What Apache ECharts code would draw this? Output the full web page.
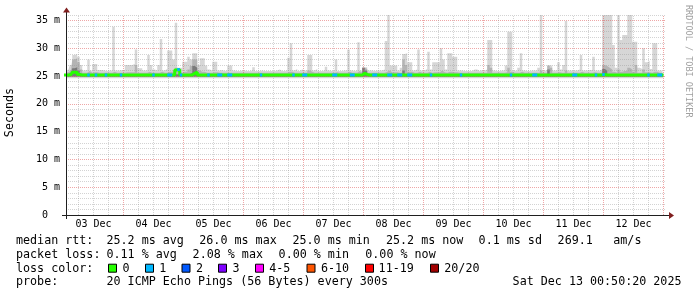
<!DOCTYPE html>
<html><head><meta charset="utf-8">
<script src="https://cdn.jsdelivr.net/npm/echarts@6/dist/echarts.min.js"></script>
<style>html,body{margin:0;padding:0;background:#fff}#c{width:697px;height:297px}</style>
</head><body><div id="c"></div>
<script>
// x values: hours since 03 Dec 00:00, one sample per hour (0..240)
const dayLabels = ['03 Dec','04 Dec','05 Dec','06 Dec','07 Dec','08 Dec','09 Dec','10 Dec','11 Dec','12 Dec'];
const dayLabelHours = [12,36,60,84,108,132,156,180,204,228];
const yTickText = {0:'0  ',5:'5 m',10:'10 m',15:'15 m',20:'20 m',25:'25 m',30:'30 m',35:'35 m'};
const hours = Array.from({length:241},(_,i)=>i);

// outer (lightest) smoke: highest ping per hour (ms)
const smokeMax = [
 25.9,26.0,26.2,27.0,28.8,29.0,28.5,27.0,26.0,26.1,28.0,26.0,27.2,27.2,26.1,26.1,26.0,25.9,26.0,26.0,33.9,26.0,26.0,26.1,
 26.1,27.0,27.0,27.0,27.2,29.8,26.4,26.4,26.0,26.0,28.8,27.0,26.2,26.0,27.0,31.7,26.0,26.3,29.6,29.6,28.0,34.6,26.5,26.5,
 27.6,27.6,28.5,28.0,29.1,29.1,27.0,28.2,28.2,26.9,26.2,26.0,27.6,27.6,26.0,26.1,25.9,26.0,26.9,26.9,26.0,25.9,25.9,26.0,
 26.0,25.9,25.9,26.0,26.6,25.9,25.9,26.0,25.9,25.9,25.9,25.9,25.9,26.0,26.2,25.9,25.9,26.0,28.3,30.9,26.0,26.3,25.9,26.2,
 26.0,26.0,28.8,28.8,26.0,26.3,25.9,25.9,26.0,26.7,26.0,25.9,26.0,28.0,25.9,25.9,26.0,26.0,29.8,26.0,25.9,26.0,31.1,26.0,
 26.6,26.6,26.0,26.0,25.9,26.0,26.0,26.0,26.2,31.3,36.0,26.9,26.9,26.9,26.0,26.5,29.0,29.1,27.5,27.5,26.0,26.2,29.8,26.0,
 26.0,26.3,29.4,26.2,27.5,27.5,27.5,30.0,28.0,26.2,29.1,29.1,28.5,28.5,26.0,26.0,25.9,25.9,25.9,25.9,26.2,26.2,25.9,26.1,
 26.0,26.2,31.5,31.5,26.0,25.9,25.9,26.0,26.0,26.9,33.0,33.0,26.0,25.9,26.5,29.1,26.0,25.9,25.9,26.0,26.0,26.0,26.5,36.0,
 26.0,26.0,26.9,26.9,26.0,26.0,27.5,26.2,27.0,34.9,26.0,26.0,26.0,26.0,26.2,28.8,26.0,26.0,26.1,26.1,28.5,26.0,26.0,26.2,
 36.0,36.0,36.0,36.0,30.6,26.5,36.0,31.5,32.4,32.4,36.0,36.0,31.2,31.2,26.5,26.3,30.0,27.5,27.7,26.3,30.9,30.9,26.0,26.0,26.0
];
// middle smoke band upper edge (ms)
const smokeMid = [
 25.6,25.6,25.7,26.0,28.0,28.2,27.5,26.2,25.6,25.6,25.9,25.6,25.7,25.7,25.6,25.6,25.6,25.6,25.6,25.6,25.8,25.6,25.6,25.6,
 25.6,25.7,25.7,25.7,25.7,27.0,25.6,25.6,25.6,25.6,25.8,25.6,25.6,25.6,25.6,25.8,25.6,25.6,25.8,25.8,25.9,26.5,25.8,25.6,
 25.8,25.8,26.2,26.8,28.0,28.0,26.0,25.8,25.8,25.6,25.6,25.6,25.7,25.7,25.6,25.6,25.6,25.6,25.6,25.6,25.6,25.6,25.6,25.6,
 25.6,25.6,25.6,25.6,25.6,25.6,25.6,25.6,25.6,25.6,25.6,25.6,25.6,25.6,25.6,25.6,25.6,25.6,25.8,25.8,25.6,25.6,25.6,25.6,
 25.6,25.6,26.0,25.8,25.6,25.6,25.6,25.6,25.6,25.6,25.6,25.6,25.6,25.7,25.6,25.6,25.6,25.6,25.8,25.6,25.6,25.6,25.9,25.6,
 26.5,26.3,25.6,25.6,25.6,25.6,25.6,25.6,25.6,25.8,26.0,25.7,25.7,25.7,25.6,25.6,28.0,27.0,25.8,25.8,25.6,25.6,25.8,25.6,
 25.6,25.6,25.8,25.6,25.7,25.7,25.7,26.0,25.7,25.6,25.8,25.8,25.7,25.7,25.6,25.6,25.6,25.6,25.6,25.6,25.6,25.6,25.6,25.6,
 25.6,25.6,27.0,26.5,25.6,25.6,25.6,25.6,25.6,25.7,26.5,25.8,25.6,25.6,25.6,25.8,25.6,25.6,25.6,25.6,25.6,25.6,25.6,26.0,
 25.6,25.6,26.9,26.5,25.6,25.6,25.7,25.6,25.6,26.0,25.6,25.6,25.6,25.6,25.6,25.8,25.6,25.6,25.6,25.6,25.7,25.6,25.6,25.6,
 27.0,26.8,26.5,26.2,25.8,25.6,26.2,25.8,25.9,25.9,26.5,26.2,25.8,27.0,25.6,25.6,26.2,25.7,25.7,25.6,25.8,25.8,25.6,25.6,25.6
];
// inner (darkest) smoke upper edge (ms)
const smokeInner = [
 25.35,25.35,25.35,25.6,26.4,26.6,26.0,25.4,25.35,25.35,25.35,25.35,25.35,25.35,25.35,25.35,25.35,25.35,25.35,25.35,25.35,25.35,25.35,25.35,
 25.35,25.35,25.35,25.35,25.35,25.35,25.35,25.35,25.35,25.35,25.35,25.35,25.35,25.35,25.35,25.35,25.35,25.35,25.35,25.35,25.35,25.35,25.35,25.35,
 25.35,25.35,25.35,25.6,26.8,26.5,25.35,25.35,25.35,25.35,25.35,25.35,25.35,25.35,25.35,25.35,25.35,25.35,25.35,25.35,25.35,25.35,25.35,25.35,
 25.35,25.35,25.35,25.35,25.35,25.35,25.35,25.35,25.35,25.35,25.35,25.35,25.35,25.35,25.35,25.35,25.35,25.35,25.35,25.35,25.35,25.35,25.35,25.35,
 25.35,25.35,25.35,25.35,25.35,25.35,25.35,25.35,25.35,25.35,25.35,25.35,25.35,25.35,25.35,25.35,25.35,25.35,25.35,25.35,25.35,25.35,25.35,25.35,
 26.5,26.0,25.35,25.35,25.35,25.35,25.35,25.35,25.35,25.35,25.35,25.35,25.35,25.35,25.35,25.35,26.0,25.35,25.35,25.35,25.35,25.35,25.35,25.35,
 25.35,25.35,25.35,25.35,25.35,25.35,25.35,25.35,25.35,25.35,25.35,25.35,25.35,25.35,25.35,25.35,25.35,25.35,25.35,25.35,25.35,25.35,25.35,25.35,
 25.35,25.35,25.35,25.35,25.35,25.35,25.35,25.35,25.35,25.35,25.35,25.35,25.35,25.35,25.35,25.35,25.35,25.35,25.35,25.35,25.35,25.35,25.35,25.35,
 25.35,25.35,26.2,25.35,25.35,25.35,25.35,25.35,25.35,25.35,25.35,25.35,25.35,25.35,25.35,25.35,25.35,25.35,25.35,25.35,25.35,25.35,25.35,25.35,
 26.3,26.0,25.35,25.35,25.35,25.35,25.35,25.35,25.35,25.35,25.35,25.35,25.35,25.35,25.35,25.35,25.35,25.35,25.35,25.35,25.35,25.35,25.35,25.35,25.35
];
// median rtt per hour (ms)
const medianRtt = [
 25.2,25.2,25.2,25.3,25.7,25.7,25.3,25.2,25.2,25.2,25.2,25.2,25.2,25.2,25.2,25.2,25.2,25.2,25.2,25.2,25.2,25.2,25.2,25.2,
 25.2,25.2,25.2,25.2,25.2,25.2,25.2,25.2,25.2,25.2,25.2,25.2,25.2,25.2,25.2,25.2,25.2,25.2,25.2,25.2,25.2,26.1,26.2,25.2,
 25.2,25.2,25.2,25.2,25.5,25.7,25.2,25.2,25.2,25.2,25.2,25.2,25.2,25.2,25.2,25.2,25.2,25.2,25.2,25.2,25.2,25.2,25.2,25.2,
 25.2,25.2,25.2,25.2,25.2,25.2,25.2,25.2,25.2,25.2,25.2,25.2,25.2,25.2,25.2,25.2,25.2,25.2,25.2,25.2,25.2,25.2,25.2,25.2,
 25.2,25.2,25.2,25.2,25.2,25.2,25.2,25.2,25.2,25.2,25.2,25.2,25.2,25.2,25.2,25.2,25.2,25.2,25.2,25.2,25.2,25.2,25.2,25.2,
 25.5,25.3,25.2,25.2,25.2,25.2,25.2,25.2,25.2,25.2,25.2,25.2,25.2,25.2,25.2,25.2,25.2,25.2,25.2,25.2,25.2,25.2,25.2,25.2,
 25.2,25.2,25.2,25.2,25.2,25.2,25.2,25.2,25.2,25.2,25.2,25.2,25.2,25.2,25.2,25.2,25.2,25.2,25.2,25.2,25.2,25.2,25.2,25.2,
 25.2,25.2,25.2,25.2,25.2,25.2,25.2,25.2,25.2,25.2,25.2,25.2,25.2,25.2,25.2,25.2,25.2,25.2,25.2,25.2,25.2,25.2,25.2,25.2,
 25.2,25.2,25.2,25.2,25.2,25.2,25.2,25.2,25.2,25.2,25.2,25.2,25.2,25.2,25.2,25.2,25.2,25.2,25.2,25.2,25.2,25.2,25.2,25.2,
 25.3,25.2,25.2,25.2,25.2,25.2,25.2,25.2,25.2,25.2,25.2,25.2,25.2,25.2,25.2,25.2,25.2,25.2,25.2,25.2,25.2,25.2,25.2,25.2,25.2
];
// lost pings per hour (of 20)
const lostPings = [
 0,0,0,0,0,0,0,0,0,0,1,0,0,1,0,0,0,1,0,0,0,0,0,1,
 0,0,0,0,0,0,0,0,0,0,0,0,1,0,0,0,0,0,1,1,0,0,1,1,
 0,0,0,0,0,0,0,0,0,0,1,0,0,0,1,1,0,0,1,1,0,0,0,0,
 0,0,0,0,0,0,0,1,0,0,0,0,0,0,0,0,0,0,0,0,1,0,0,0,
 1,1,0,0,0,0,0,0,0,0,0,0,1,1,0,0,0,0,0,1,1,0,0,0,
 0,0,0,0,1,1,0,0,0,0,1,1,0,0,1,1,0,0,1,1,0,0,0,0,
 0,0,0,1,0,0,0,0,0,0,0,0,0,0,0,1,0,0,0,0,0,0,0,0,
 0,0,0,0,0,0,0,0,0,0,0,1,0,0,0,0,0,0,0,0,1,1,0,0,
 0,0,0,0,0,0,0,0,0,0,0,0,1,1,0,0,0,0,0,0,0,1,0,0,
 1,0,0,0,0,0,0,0,0,0,0,0,0,0,0,0,0,0,1,0,0,0,1,1,0
];
const lossColors = ['#26ff00','#00b8ff','#0059ff','#7e00ff','#ff00ff','#ff5500','#ff0000','#a10000'];
const lossLabels = ['0','1','2','3','4-5','6-10','11-19','20/20'];

const MONO = '"DejaVu Sans Mono", monospace';
const GRID_MINOR = 'rgba(150,150,150,0.42)';
const GRID_MAJOR = 'rgba(222,79,79,0.5)';

const pts = arr => hours.map((h,i)=>[h, arr[i]]);
function lossSegments(level){
  const out=[];
  hours.forEach((h,i)=>{ if(lostPings[i]===level){ out.push([h-0.5,medianRtt[i]],[h+0.5,medianRtt[i]],'-'); } });
  return out;
}
const vGrid = [];
for(let h=6; h<=240; h+=6){ vGrid.push({xAxis:h, lineStyle:{color:(h%24===0)?GRID_MAJOR:GRID_MINOR, type:'dotted', width:1}}); }

function txt(text,x,y,opt){
  opt=opt||{};
  const size=opt.size||11.7;
  return {type:'text', x:x, y:y, z:20, rotation:opt.rotation||0, silent:true,
    style:{text:text, font:size+'px '+MONO, fontSize:size, fontFamily:MONO, fill:opt.color||'#000',
      textAlign:opt.align||'left', align:opt.align||'left', textVerticalAlign:'middle', verticalAlign:'middle'}};
}
const graphics = [];
graphics.push({type:'line', z:15, silent:true, shape:{x1:62,y1:215.5,x2:669,y2:215.5}, style:{stroke:'#1f1f1f',lineWidth:1}});
graphics.push({type:'line', z:15, silent:true, shape:{x1:66.5,y1:219,x2:66.5,y2:12}, style:{stroke:'#1f1f1f',lineWidth:1}});
graphics.push({type:'polygon', z:16, silent:true, shape:{points:[[669,212],[674,215.5],[669,219]]}, style:{fill:'#801f1f'}});
graphics.push({type:'polygon', z:16, silent:true, shape:{points:[[63,12.5],[66.5,7.5],[70,12.5]]}, style:{fill:'#801f1f'}});
graphics.push(txt('Seconds',10,112.5,{align:'center',rotation:Math.PI/2}));
graphics.push(txt('RRDTOOL / TOBI OETIKER',688,5,{size:8.5,color:'#a0a0a0',rotation:-Math.PI/2}));
const r1=241.3, r2=255, r3=268.7, r4=282.4;
[['median rtt:',16],['25.2 ms avg',106.5],['26.0 ms max',199.3],['25.0 ms min',292.5],['25.2 ms now',386],['0.1 ms sd',478.6],['269.1',557.6],['am/s',613.3]]
  .forEach(t=>graphics.push(txt(t[0],t[1],r1)));
[['packet loss:',16],['0.11 % avg',106.5],['2.08 % max',192.6],['0.00 % min',278.6],['0.00 % now',365.3]]
  .forEach(t=>graphics.push(txt(t[0],t[1],r2)));
graphics.push(txt('loss color:',16,r3));
const boxX=[108.5,145.5,182,218.5,255.5,307,365.5,430.5];
const labX=[122.6,159.3,196,232.6,269.3,321,378.6,444.3];
lossColors.forEach((c,i)=>{
  graphics.push({type:'rect', z:20, silent:true, shape:{x:boxX[i],y:r3-4.5,width:8,height:8}, style:{fill:c,stroke:'#000',lineWidth:1}});
  graphics.push(txt(lossLabels[i],labX[i],r3));
});
graphics.push(txt('probe:',16,r4));
graphics.push(txt('20 ICMP Echo Pings (56 Bytes) every 300s',106.5,r4));
graphics.push(txt('Sat Dec 13 00:50:20 2025',512.6,r4));

const chart = echarts.init(document.getElementById('c'), null, {renderer:'canvas'});
chart.setOption({
  animation:false,
  backgroundColor:'#ffffff',
  grid:{left:66, top:15, width:600, height:200, containLabel:false, outerBoundsMode:'none'},
  xAxis:{type:'value', min:1, max:241,
    axisLine:{show:false}, axisTick:{show:false}, splitLine:{show:false},
    axisLabel:{customValues:dayLabelHours, margin:4, color:'#000', fontFamily:MONO, fontSize:10,
      formatter:v=>dayLabels[Math.round((v-12)/24)]||''}},
  yAxis:{type:'value', min:0, max:36, interval:1, z:4,
    axisLine:{show:false}, axisTick:{show:false},
    axisLabel:{margin:6, color:'#000', fontFamily:MONO, fontSize:10, showMaxLabel:true,
      formatter:v=>(yTickText[v]!==undefined)?yTickText[v]:''},
    splitLine:{show:true, lineStyle:{color:[GRID_MAJOR,GRID_MINOR,GRID_MINOR,GRID_MINOR,GRID_MINOR], type:'dotted', width:1}}},
  series:[
    {type:'line', name:'smoke', data:pts(smokeMax), step:'middle', symbol:'none', z:2, silent:true,
      lineStyle:{width:0}, areaStyle:{color:'#d6d6d6', opacity:1, origin:24.6},
      markLine:{silent:true, symbol:'none', animation:false, label:{show:false}, emphasis:{disabled:true}, data:vGrid}},
    {type:'line', name:'smokeMid', data:pts(smokeMid), step:'middle', symbol:'none', z:2, silent:true,
      lineStyle:{width:0}, areaStyle:{color:'#b4b4b4', opacity:1, origin:24.85}},
    {type:'line', name:'smokeInner', data:pts(smokeInner), step:'middle', symbol:'none', z:2, silent:true,
      lineStyle:{width:0}, areaStyle:{color:'#7a7a7a', opacity:1, origin:24.95}},
    {type:'line', name:'median', data:pts(medianRtt), step:'middle', symbol:'none', z:6, silent:true,
      lineStyle:{color:lossColors[0], width:3}},
    {type:'line', name:'loss1', data:lossSegments(1), symbol:'none', z:7, silent:true, connectNulls:false,
      lineStyle:{color:lossColors[1], width:3}}
  ],
  graphic:{elements:graphics}
});
</script></body></html>
